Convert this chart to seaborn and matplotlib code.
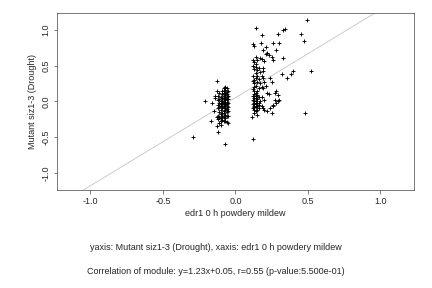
import numpy as np
import pandas as pd
import matplotlib
matplotlib.use("Agg")
import matplotlib.pyplot as plt
import seaborn as sns

# module expression values
left_x = [-0.29, -0.21, -0.17, -0.12, -0.07, -0.13, -0.13, -0.14, -0.15, -0.16,
          -0.12, -0.12, -0.12, -0.12, -0.12, -0.12, -0.11, -0.11, -0.11, -0.11,
          -0.11, -0.11, -0.10, -0.10, -0.10, -0.10, -0.10, -0.10, -0.10, -0.10,
          -0.09, -0.09, -0.09, -0.09, -0.09, -0.09, -0.09, -0.09, -0.09, -0.09,
          -0.08, -0.08, -0.08, -0.08, -0.08, -0.08, -0.08, -0.08, -0.08, -0.08,
          -0.08, -0.08, -0.07, -0.07, -0.07, -0.07, -0.07, -0.07, -0.07, -0.07,
          -0.07, -0.07, -0.07, -0.07, -0.07, -0.06, -0.06, -0.06, -0.06, -0.06,
          -0.06, -0.06, -0.06, -0.06, -0.06, -0.06, -0.06, -0.05, -0.05, -0.05,
          -0.05, -0.05, -0.05, -0.05, -0.05, -0.13, -0.14, -0.13, -0.11, -0.10]
left_y = [-0.50, 0.00, -0.27, -0.43, -0.60, 0.28, 0.15, 0.04, -0.13, -0.02,
          0.08, 0.02, -0.05, -0.10, -0.20, -0.25, 0.12, 0.03, -0.02, -0.08,
          -0.15, -0.22, 0.06, 0.00, -0.04, -0.07, -0.12, -0.18, -0.24, -0.28,
          0.14, 0.10, 0.04, 0.01, -0.03, -0.06, -0.10, -0.16, -0.20, -0.26,
          0.18, 0.15, 0.11, 0.07, 0.03, -0.01, -0.04, -0.08, -0.13, -0.17,
          -0.22, -0.28, 0.20, 0.16, 0.12, 0.09, 0.05, 0.02, -0.02, -0.05,
          -0.09, -0.12, -0.19, -0.23, -0.27, 0.19, 0.13, 0.10, 0.06, 0.03,
          -0.01, -0.04, -0.07, -0.11, -0.15, -0.21, -0.29, 0.14, 0.08, 0.03,
          -0.03, -0.08, -0.14, -0.20, -0.30, -0.22, 0.07, -0.34, -0.30, -0.33]

right_x = [0.49, 0.455, 0.47, 0.14, 0.33, 0.34, 0.29, 0.18, 0.12, 0.13,
           0.175, 0.26, 0.30, 0.28, 0.19, 0.21, 0.33, 0.52, 0.40, 0.38,
           0.355, 0.32, 0.48, 0.12, 0.115, 0.12, 0.12, 0.12, 0.12, 0.12,
           0.12, 0.12, 0.12, 0.13, 0.13, 0.13, 0.13, 0.13, 0.13, 0.13,
           0.13, 0.13, 0.13, 0.13, 0.13, 0.13, 0.14, 0.14, 0.14, 0.14,
           0.14, 0.14, 0.14, 0.14, 0.14, 0.14, 0.14, 0.14, 0.15, 0.15,
           0.15, 0.15, 0.15, 0.15, 0.15, 0.15, 0.15, 0.15, 0.16, 0.16,
           0.16, 0.16, 0.16, 0.16, 0.17, 0.17, 0.17, 0.18, 0.18, 0.18,
           0.18, 0.19, 0.19, 0.19, 0.19, 0.20, 0.20, 0.20, 0.21, 0.21,
           0.22, 0.22, 0.23, 0.24, 0.25, 0.25, 0.25, 0.26, 0.26, 0.27,
           0.27, 0.28, 0.28, 0.29, 0.29, 0.30, 0.22, 0.24, 0.17, 0.16,
           0.13, 0.14, 0.15, 0.12, 0.14, 0.18, 0.20, 0.26, 0.23, 0.19]
right_y = [1.13, 0.94, 0.84, 1.02, 1.00, 1.01, 0.94, 0.93, 0.80, 0.77,
           0.81, 0.81, 0.81, 0.71, 0.71, 0.76, 0.60, 0.42, 0.43, 0.38,
           0.33, 0.38, -0.17, -0.53, -0.22, 0.58, 0.50, 0.35, 0.28, 0.17,
           0.08, 0.02, -0.10, 0.55, 0.45, 0.30, 0.25, 0.20, 0.14, 0.10,
           0.05, 0.01, -0.03, -0.06, -0.12, -0.16, 0.62, 0.48, 0.40, 0.33,
           0.22, 0.12, 0.07, 0.04, 0.00, -0.04, -0.08, -0.14, 0.57, 0.44,
           0.36, 0.27, 0.15, 0.09, 0.03, -0.02, -0.07, -0.12, 0.47, 0.31,
           0.18, 0.06, -0.05, -0.10, 0.61, 0.41, 0.00, 0.59, 0.35, 0.20,
           -0.06, 0.46, 0.33, 0.18, -0.10, 0.56, 0.27, 0.02, 0.66, 0.22,
           0.67, 0.12, 0.10, 0.32, 0.62, 0.27, -0.17, 0.58, -0.05, 0.12,
           0.02, 0.15, -0.03, 0.09, 0.01, 0.02, -0.13, -0.09, 0.25, -0.02,
           -0.08, 0.52, -0.19, -0.04, 0.07, 0.06, -0.12, -0.07, 0.64, 0.42]

slope = 1.23
intercept = 0.05

x_ticks = [-1.0, -0.5, 0.0, 0.5, 1.0]
y_ticks = [-1.0, -0.5, 0.0, 0.5, 1.0]

x_label = "edr1 0 h powdery mildew"
y_label = "Mutant siz1-3 (Drought)"
caption1 = "yaxis: Mutant siz1-3 (Drought), xaxis: edr1 0 h powdery mildew"
caption2 = "Correlation of module: y=1.23x+0.05, r=0.55 (p-value:5.500e-01)"

df = pd.DataFrame({"x": left_x + right_x, "y": left_y + right_y})

sns.set_style("white")
plt.rcParams["font.family"] = ["Liberation Sans", "DejaVu Sans"]
FS = 9

fig = plt.figure(figsize=(6, 4), dpi=72)
ax = fig.add_axes([0.132, 0.34, 0.826, 0.614])

ax.axline((0, intercept), slope=slope, color="#c8c8c8", lw=0.9, zorder=1)
sns.scatterplot(data=df, x="x", y="y", marker="+", color="black",
                s=22, linewidth=0.9, ax=ax, zorder=2)

ax.set_xlim(-1.23, 1.23)
ax.set_ylim(-1.24, 1.23)
ax.set_xticks(x_ticks)
ax.set_yticks(y_ticks)
ax.set_xticklabels([f"{t:.1f}" for t in x_ticks], fontsize=FS)
ax.set_yticklabels([f"{t:.1f}" for t in y_ticks], fontsize=FS, rotation=90, va="center")
ax.tick_params(direction="out", length=3.5, width=0.6, color="#333333", pad=3)
ax.tick_params(axis="x", bottom=True)
ax.tick_params(axis="y", left=True)
for sp in ax.spines.values():
    sp.set_color("#444444")
    sp.set_linewidth(0.7)

ax.set_xlabel(x_label, fontsize=FS, labelpad=3)
ax.set_ylabel(y_label, fontsize=FS, labelpad=5)

fig.text(0.5, 1 - 248 / 288, caption1, ha="center", va="center", fontsize=FS)
fig.text(0.5, 1 - 271 / 288, caption2, ha="center", va="center", fontsize=FS)

fig.savefig("out.png", dpi=72)
